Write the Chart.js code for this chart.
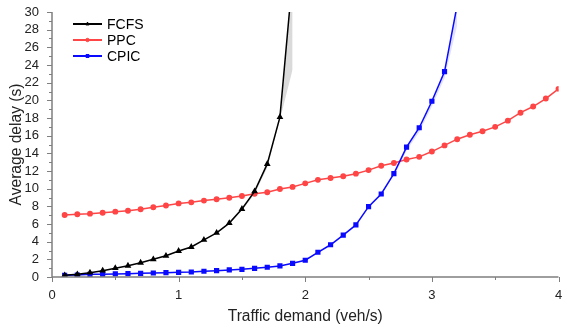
<!DOCTYPE html>
<html>
<head>
<meta charset="utf-8">
<script src="https://cdn.jsdelivr.net/npm/chart.js@4.4.1/dist/chart.umd.min.js"></script>
<style>
  html, body { margin: 0; padding: 0; background: #fff; }
  #wrap { width: 564px; height: 328px; }
</style>
</head>
<body>
<div id="wrap"><canvas id="delayChart" width="564" height="328"></canvas></div>
<script>
// traffic demand (veh/s)
const demand = [0.1, 0.2, 0.3, 0.4, 0.5, 0.6, 0.7, 0.8, 0.9, 1.0,
                1.1, 1.2, 1.3, 1.4, 1.5, 1.6, 1.7, 1.8, 1.9, 2.0,
                2.1, 2.2, 2.3, 2.4, 2.5, 2.6, 2.7, 2.8, 2.9, 3.0,
                3.1, 3.2, 3.3, 3.4, 3.5, 3.6, 3.7, 3.8, 3.9, 4.0];

// average delay (s)
const fcfsDelay = [0.19, 0.3, 0.49, 0.72, 1.0, 1.28, 1.62, 2.0, 2.4, 2.95,
                   3.4, 4.2, 5.0, 6.1, 7.7, 9.7, 12.8, 18.1, 34.0];
const ppcDelay = [7.02, 7.1, 7.17, 7.28, 7.4, 7.5, 7.67, 7.9, 8.1, 8.33,
                  8.45, 8.65, 8.8, 8.98, 9.17, 9.43, 9.6, 9.97, 10.2, 10.6,
                  11.0, 11.2, 11.4, 11.7, 12.1, 12.6, 12.9, 13.3, 13.6, 14.2,
                  14.9, 15.6, 16.1, 16.5, 17.0, 17.7, 18.6, 19.3, 20.2, 21.3];
const cpicDelay = [0.19, 0.23, 0.3, 0.32, 0.35, 0.38, 0.42, 0.45, 0.49, 0.53,
                   0.57, 0.65, 0.72, 0.8, 0.87, 0.98, 1.1, 1.25, 1.55, 1.9,
                   2.8, 3.65, 4.75, 5.9, 7.96, 9.4, 11.7, 14.7, 16.9, 19.9,
                   23.25, 30.8];

// shaded spread next to the steep parts
const fcfsBandX = [1.5, 1.6, 1.7, 1.8, 1.9];
const fcfsBand = [7.5, 9.4, 12.4, 17.8, 23.5];
const cpicBandX = [2.7, 2.8, 2.9, 3.0, 3.1, 3.2];
const cpicBand = [11.4, 14.3, 16.4, 19.3, 22.5, 28.5];

const xTicks = [0, 1, 2, 3, 4];
const yTicks = [0, 2, 4, 6, 8, 10, 12, 14, 16, 18, 20, 22, 24, 26, 28, 30];

const FONT = '"Liberation Sans", Arial, sans-serif';
const AXIS_COLOR = '#7f7f7f';

const pts = (xs, ys) => ys.map((v, i) => ({ x: xs[i], y: v }));

const axisTicks = {
    id: 'axisTicks',
    afterDraw(chart) {
        const { ctx, chartArea: a, scales: { x, y } } = chart;
        ctx.save();
        ctx.strokeStyle = AXIS_COLOR;
        ctx.lineWidth = 1;
        ctx.beginPath();
        xTicks.forEach((v, i) => {
            const px = Math.round(x.getPixelForValue(v)) + 0.5;
            ctx.moveTo(px, a.bottom); ctx.lineTo(px, a.bottom + 5);
            if (i < xTicks.length - 1) {
                const mx = Math.round(x.getPixelForValue((v + xTicks[i + 1]) / 2)) + 0.5;
                ctx.moveTo(mx, a.bottom); ctx.lineTo(mx, a.bottom + 3);
            }
        });
        yTicks.forEach((v, i) => {
            const py = Math.round(y.getPixelForValue(v)) + 0.5;
            ctx.moveTo(a.left, py); ctx.lineTo(a.left - 5, py);
            if (i < yTicks.length - 1) {
                const my = Math.round(y.getPixelForValue((v + yTicks[i + 1]) / 2)) + 0.5;
                ctx.moveTo(a.left, my); ctx.lineTo(a.left - 3, my);
            }
        });
        ctx.stroke();
        ctx.lineWidth = 1.5;
        ctx.beginPath();
        ctx.moveTo(a.left, a.top);
        ctx.lineTo(a.left, a.bottom);
        ctx.lineTo(a.right, a.bottom);
        ctx.stroke();

        // legend inside the plot, top left
        ctx.font = '14px ' + FONT;
        ctx.textBaseline = 'middle';
        const rows = [24, 40, 56];
        chart.data.datasets.slice(0, 3).forEach((ds, i) => {
            const yy = rows[i];
            ctx.strokeStyle = ds.borderColor;
            ctx.fillStyle = ds.borderColor;
            ctx.lineWidth = 2;
            ctx.beginPath();
            ctx.moveTo(73, yy); ctx.lineTo(102, yy);
            ctx.stroke();
            ctx.lineWidth = 1;
            Chart.helpers.drawPoint(ctx, {
                pointStyle: ds.pointStyle, radius: ds.pointRadius - 0.5, rotation: 0, borderWidth: 1
            }, 87.5, yy);
            ctx.fillStyle = '#000';
            ctx.fillText(ds.label, 107, yy + 1);
        });
        ctx.restore();
    }
};

const ctx = document.getElementById('delayChart').getContext('2d');
new Chart(ctx, {
    type: 'line',
    data: {
        datasets: [
            {
                label: 'FCFS',
                data: pts(demand, fcfsDelay),
                borderColor: '#000000',
                backgroundColor: '#000000',
                borderWidth: 1.5,
                pointStyle: 'triangle',
                pointRadius: 2.4,
                order: 0
            },
            {
                label: 'PPC',
                data: pts(demand, ppcDelay),
                borderColor: '#ff4545',
                backgroundColor: '#ff4545',
                borderWidth: 1.5,
                pointStyle: 'circle',
                pointRadius: 2.2,
                order: 1
            },
            {
                label: 'CPIC',
                data: pts(demand, cpicDelay),
                borderColor: '#0a0aff',
                backgroundColor: '#0a0aff',
                borderWidth: 1.5,
                pointStyle: 'rect',
                pointRadius: 2.6,
                order: 0
            },
            {
                label: 'FCFS band',
                data: pts(fcfsBandX, fcfsBand),
                borderWidth: 0,
                pointRadius: 0,
                backgroundColor: 'rgba(150,150,150,0.35)',
                fill: 0,
                order: 5
            },
            {
                label: 'CPIC band',
                data: pts(cpicBandX, cpicBand),
                borderWidth: 0,
                pointRadius: 0,
                backgroundColor: 'rgba(90,90,255,0.18)',
                fill: 2,
                order: 5
            }
        ]
    },
    options: {
        responsive: false,
        animation: false,
        layout: { padding: { top: 12, right: 4, left: 0, bottom: 0 } },
        elements: { line: { tension: 0 } },
        plugins: {
            legend: { display: false },
            tooltip: { enabled: false }
        },
        scales: {
            x: {
                type: 'linear',
                min: 0,
                max: 4,
                grid: { display: false },
                border: { display: false },
                ticks: { stepSize: 1, autoSkip: false, maxRotation: 0, color: '#222',
                         font: { size: 13, family: FONT }, padding: 3 },
                title: { display: true, text: 'Traffic demand (veh/s)', color: '#222',
                         font: { size: 15.6, family: FONT }, padding: { top: 0, bottom: 2 } },
                afterFit: (s) => { s.height = 51; s.paddingLeft = 0; s.paddingRight = 0; }
            },
            y: {
                min: 0,
                max: 30,
                grid: { display: false },
                border: { display: false },
                ticks: { stepSize: 2, autoSkip: false, color: '#222',
                         font: { size: 13, family: FONT }, padding: 5 },
                title: { display: true, text: 'Average delay (s)', color: '#222',
                         font: { size: 15.6, family: FONT }, padding: { top: 7, bottom: 0 } },
                afterFit: (s) => { s.width = 52; s.paddingTop = 0; s.paddingBottom = 0; }
            }
        }
    },
    plugins: [axisTicks]
});
</script>
</body>
</html>
